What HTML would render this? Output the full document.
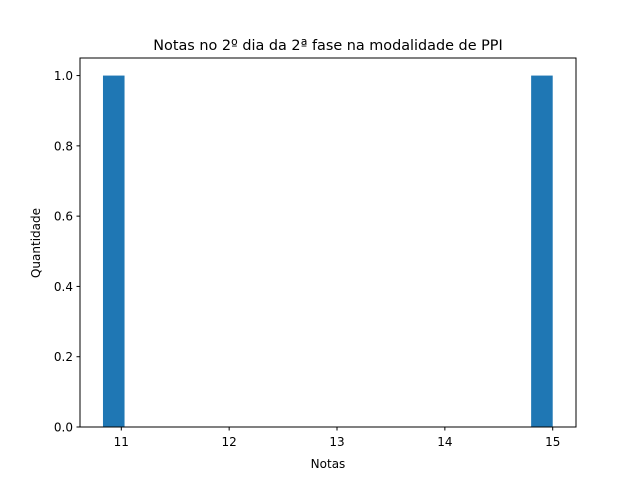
<!DOCTYPE html>
<html><head><meta charset="utf-8"><style>
body{margin:0;background:#fff;}
text{font-family:"DejaVu Sans","Liberation Sans",sans-serif;fill:#000;}
</style></head><body>
<svg id="chart" width="640" height="480">
<rect width="640" height="480" fill="#fff"/>
<text x="328" y="50" font-size="14.4" text-anchor="middle">Notas no 2º dia da 2ª fase na modalidade de PPI</text>
<text x="328" y="468" font-size="12" text-anchor="middle">Notas</text>
<text transform="translate(40,243) rotate(-90)" font-size="12" text-anchor="middle">Quantidade</text>
<g id="bars"></g>
<g id="ticks"></g>
<rect x="80" y="58" width="496" height="369" fill="none" stroke="#000" stroke-width="1"/>
</svg>
<script>
const binStarts=[10.83,14.8];
const binWidth=0.2;
const counts=[1,1];
const xTicks=[11,12,13,14,15];
const yTicks=[0,0.2,0.4,0.6,0.8,1.0];
const xmin=10.617,xmax=15.216,ymax=1.05;
const X=v=>80+(v-xmin)/(xmax-xmin)*496;
const Y=v=>427-v/ymax*369;
const NS="http://www.w3.org/2000/svg";
const bars=document.getElementById('bars'),ticks=document.getElementById('ticks');
binStarts.forEach((b,i)=>{
 const r=document.createElementNS(NS,'rect');
 
 
 r.setAttribute('x',X(b));r.setAttribute('width',X(b+binWidth)-X(b));
 r.setAttribute('y',Y(counts[i]));r.setAttribute('height',Y(0)-Y(counts[i]));
 r.setAttribute('fill','#1f77b4');bars.appendChild(r);
});
xTicks.forEach(t=>{
 const l=document.createElementNS(NS,'line');
 
 
 l.setAttribute('x1',X(t));l.setAttribute('x2',X(t));l.setAttribute('y1',427);l.setAttribute('y2',430.5);l.setAttribute('stroke','#000');
 ticks.appendChild(l);
 const tx=document.createElementNS(NS,'text');
 
 
 tx.setAttribute('x',X(t));tx.setAttribute('y',446);tx.setAttribute('font-size','12');tx.setAttribute('text-anchor','middle');
 tx.textContent=t;ticks.appendChild(tx);
});
yTicks.forEach(t=>{
 const l=document.createElementNS(NS,'line');
 
 
 l.setAttribute('x1',76.5);l.setAttribute('x2',80);l.setAttribute('y1',Y(t));l.setAttribute('y2',Y(t));l.setAttribute('stroke','#000');
 ticks.appendChild(l);
 const tx=document.createElementNS(NS,'text');
 
 
 tx.setAttribute('x',73);tx.setAttribute('y',Y(t)+4.5);tx.setAttribute('font-size','12');tx.setAttribute('text-anchor','end');
 tx.textContent=t.toFixed(1);ticks.appendChild(tx);
});
</script>
</body></html>
